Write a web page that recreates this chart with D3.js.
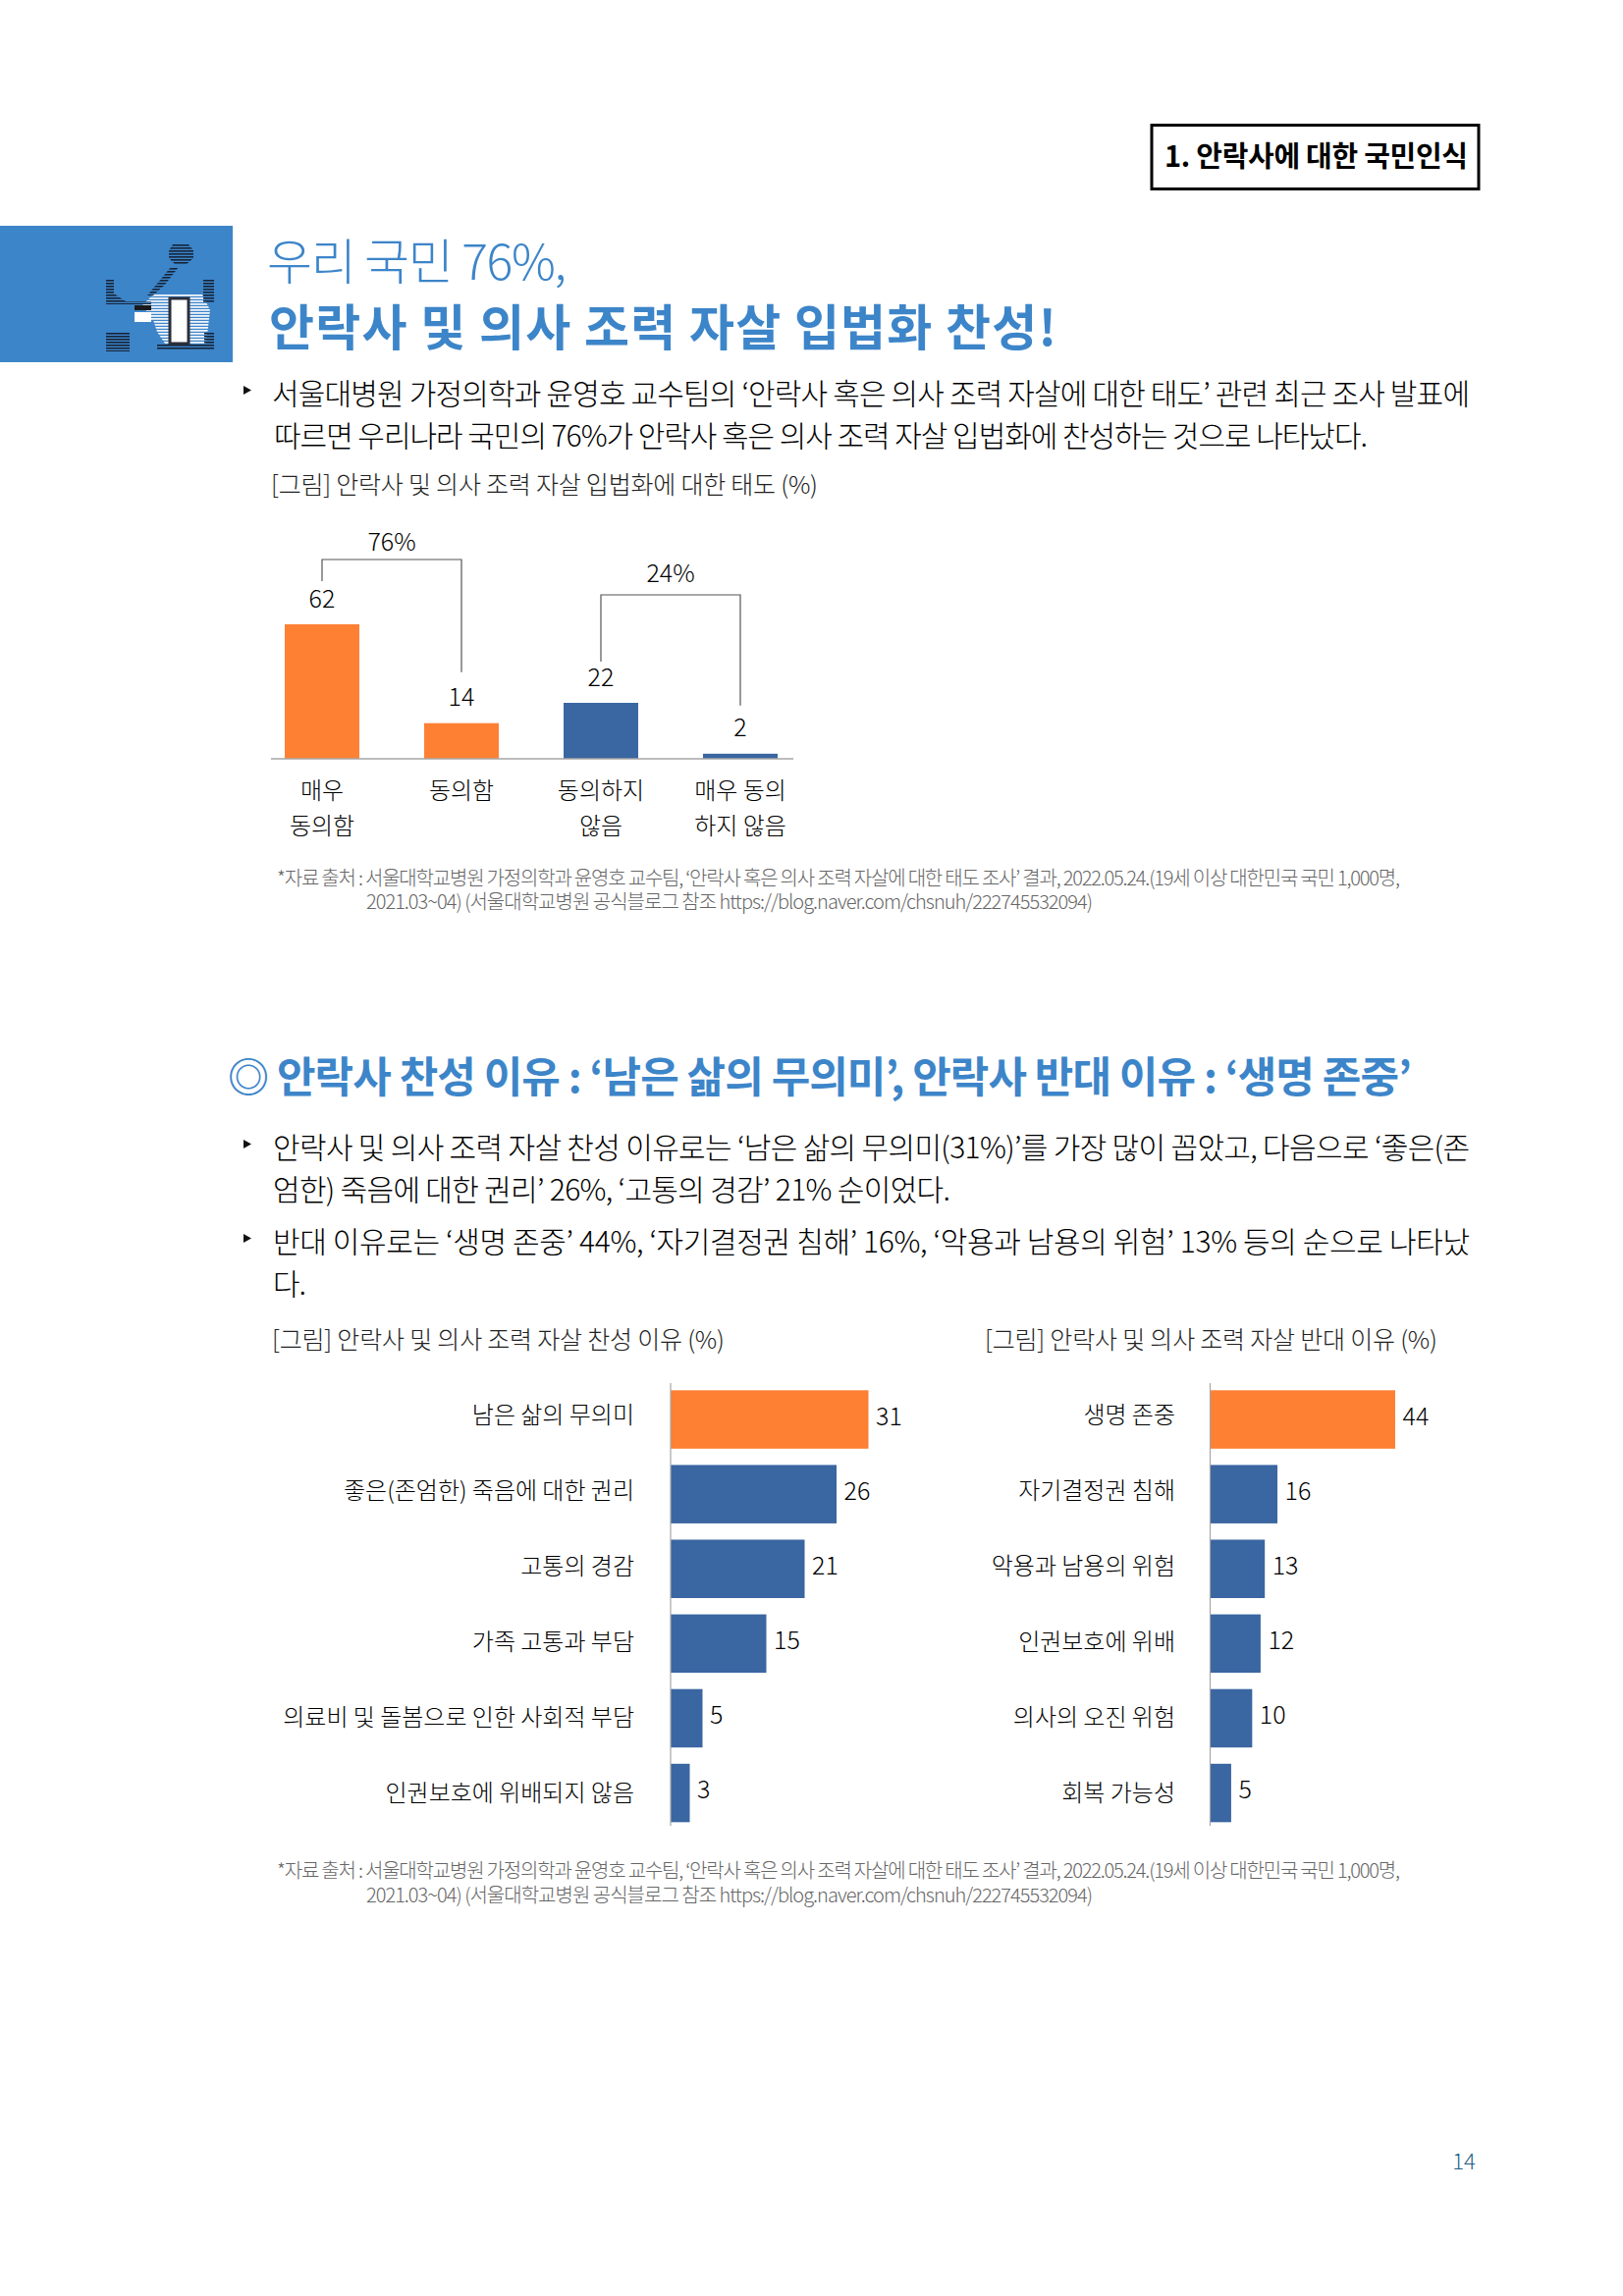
<!DOCTYPE html>
<html>
<head>
<meta charset="utf-8">
<script src="https://cdn.jsdelivr.net/npm/d3@7"></script>
<style>
  body { margin: 0; background: #fff; }
  text { font-family: "Noto Sans CJK KR", "Noto Sans", sans-serif; }
</style>
</head>
<body>
<svg id="page" width="1653" height="2339"></svg>
<script>
// Chart values
var attitude_labels = ["매우\n동의함", "동의함", "동의하지\n않음", "매우 동의\n하지 않음"]
var attitude_values = [62, 14, 22, 2]
var attitude_groups = ["76%", "24%"]

var favour_labels = ["남은 삶의 무의미", "좋은(존엄한) 죽음에 대한 권리", "고통의 경감", "가족 고통과 부담", "의료비 및 돌봄으로 인한 사회적 부담", "인권보호에 위배되지 않음"]
var favour_values = [31, 26, 21, 15, 5, 3]

var oppose_labels = ["생명 존중", "자기결정권 침해", "악용과 남용의 위험", "인권보호에 위배", "의사의 오진 위험", "회복 가능성"]
var oppose_values = [44, 16, 13, 12, 10, 5]

// Page text
var box_title = "1. 안락사에 대한 국민인식"
var head_light = "우리 국민 76%,"
var head_bold = "안락사 및 의사 조력 자살 입법화 찬성!"
var intro_lines = [
  "서울대병원 가정의학과 윤영호 교수팀의 ‘안락사 혹은 의사 조력 자살에 대한 태도’ 관련 최근 조사 발표에",
  "따르면 우리나라 국민의 76%가 안락사 혹은 의사 조력 자살 입법화에 찬성하는 것으로 나타났다."
]
var caption_attitude = "[그림] 안락사 및 의사 조력 자살 입법화에 대한 태도 (%)"
var source_lines = [
  "*자료 출처 : 서울대학교병원 가정의학과 윤영호 교수팀, ‘안락사 혹은 의사 조력 자살에 대한 태도 조사’ 결과, 2022.05.24.(19세 이상 대한민국 국민 1,000명,",
  "2021.03~04) (서울대학교병원 공식블로그 참조 https://blog.naver.com/chsnuh/222745532094)"
]
var section_mark = "◎"
var section_head = "안락사 찬성 이유 : ‘남은 삶의 무의미’, 안락사 반대 이유 : ‘생명 존중’"
var reason_lines = [
  "안락사 및 의사 조력 자살 찬성 이유로는 ‘남은 삶의 무의미(31%)’를 가장 많이 꼽았고, 다음으로 ‘좋은(존",
  "엄한) 죽음에 대한 권리’ 26%, ‘고통의 경감’ 21% 순이었다.",
  "반대 이유로는 ‘생명 존중’ 44%, ‘자기결정권 침해’ 16%, ‘악용과 남용의 위험’ 13% 등의 순으로 나타났",
  "다."
]
var caption_favour = "[그림] 안락사 및 의사 조력 자살 찬성 이유 (%)"
var caption_oppose = "[그림] 안락사 및 의사 조력 자살 반대 이유 (%)"
var page_number = "14"

var ORANGE = "#fe8033"
var BLUE = "#3a66a1"
var HEAD_BLUE = "#3d85c9"
var AXIS_GREY = "#a6a6a6"
var BODY_WEIGHT = 300

var svg = d3.select("#page")

svg.append("rect").attr("width", 1653).attr("height", 2339).attr("fill", "#fff")

// Text squeezed to the width it has in the picture
function fit_text(text, x1, x2, baseline, size, weight, fill) {
  return svg.append("text")
    .attr("x", x1)
    .attr("y", baseline)
    .attr("textLength", x2 - x1)
    .attr("lengthAdjust", "spacing")
    .style("font-size", size + "px")
    .style("font-weight", weight)
    .attr("fill", fill)
    .text(text)
}

function draw_bullet(x, y) {
  svg.append("path")
    .attr("d", "M" + x + "," + y + "l8,4.5l-8,4.5Z")
    .attr("fill", "#111")
}

function draw_header() {
  svg.append("rect")
    .attr("x", 1173).attr("y", 127.5)
    .attr("width", 333).attr("height", 65)
    .attr("fill", "#fff").attr("stroke", "#000").attr("stroke-width", 3)
  fit_text(box_title, 1186, 1495, 170, 29, 700, "#000")

  svg.append("rect")
    .attr("x", 0).attr("y", 230).attr("width", 237).attr("height", 139)
    .attr("fill", HEAD_BLUE)
  draw_icon()

  fit_text(head_light, 272, 577, 285, 50, 300, HEAD_BLUE)
  fit_text(head_bold, 274, 1076, 352, 50, 700, HEAD_BLUE)

  draw_bullet(248, 393)
  fit_text(intro_lines[0], 277, 1497, 412, 30, BODY_WEIGHT, "#000")
  fit_text(intro_lines[1], 279, 1393, 455, 30, BODY_WEIGHT, "#000")
  fit_text(caption_attitude, 276, 833, 503, 25, BODY_WEIGHT, "#222")
}

// Rough copy of the halftone icon in the blue block
function draw_icon() {
  var defs = svg.append("defs")
  defs.append("pattern")
    .attr("id", "icon_stripes")
    .attr("patternUnits", "userSpaceOnUse")
    .attr("width", 4).attr("height", 3)
    .append("rect").attr("width", 4).attr("height", 1.6).attr("fill", "#14243a")

  defs.append("pattern")
    .attr("id", "icon_white")
    .attr("patternUnits", "userSpaceOnUse")
    .attr("width", 4).attr("height", 3)
    .append("rect").attr("width", 4).attr("height", 1.8).attr("fill", "#eef3fa")

  var g = svg.append("g")

  g.append("path")
    .attr("d", "M156,300h50l8,16l-4,34h-42l-8,-12l-4,-12h-4l-4,-12h-6Z")
    .attr("fill", "url(#icon_white)")

  var dark = ["M176,249h16l5,6v8l-8,7h-10l-7,-7v-8Z",
              "M174,272h8l-14,18l-12,11h-6Z",
              "M108,285h8v14l12,8h26v3h-46Z",
              "M108,339h24v19h-24Z",
              "M160,350h58v7h-58Z",
              "M207,285h11v24h-11Z",
              "M208,338h10v12h-10Z"]
  g.selectAll(".icon_dark").data(dark).enter().append("path")
    .attr("class", "icon_dark")
    .attr("d", function(d) { return d })
    .attr("fill", "url(#icon_stripes)")

  g.append("rect").attr("x", 137).attr("y", 311).attr("width", 17).attr("height", 5).attr("fill", "#1b1b1b")
  g.append("rect").attr("x", 137).attr("y", 318).attr("width", 17).attr("height", 10).attr("fill", "#fff")
  g.append("rect").attr("x", 173).attr("y", 304).attr("width", 19).attr("height", 46)
    .attr("fill", "#fff").attr("stroke", "#2a2f3a").attr("stroke-width", 3)
}

function draw_attitude_chart() {
  var x = d3.scaleBand()
    .domain(attitude_labels)
    .range([257, 825])
    .paddingInner(0.465)
    .paddingOuter(0.2325)

  // The bars in the picture are not proportional to their labels, hence the bend at 22
  var y = d3.scaleLinear()
    .domain([0, 22, 62])
    .range([773, 716, 636])

  var bars = attitude_labels.map(function(label, i) {
    return {label: label, value: attitude_values[i], i: i}
  })

  svg.selectAll(".attitude_bar").data(bars).enter().append("rect")
    .attr("class", "attitude_bar")
    .attr("x", function(d) { return x(d.label) })
    .attr("y", function(d) { return y(d.value) })
    .attr("width", x.bandwidth())
    .attr("height", function(d) { return y(0) - y(d.value) })
    .attr("fill", function(d) { return d.i < 2 ? ORANGE : BLUE })

  svg.selectAll(".attitude_value").data(bars).enter().append("text")
    .attr("class", "attitude_value")
    .attr("x", function(d) { return x(d.label) + x.bandwidth() / 2 })
    .attr("y", function(d) { return y(d.value) - 17.5 })
    .attr("text-anchor", "middle")
    .style("font-size", "25px")
    .style("font-weight", BODY_WEIGHT)
    .attr("fill", "#000")
    .text(function(d) { return d.value })

  var axis = d3.axisBottom(x).tickSize(0).tickSizeOuter(0).tickFormat("")
  var axis_g = svg.append("g")
    .attr("transform", "translate(0," + y(0) + ")")
    .call(axis)
  axis_g.select(".domain").remove()
  axis_g.append("line")
    .attr("x1", 276).attr("x2", 808)
    .attr("stroke", AXIS_GREY).attr("stroke-width", 1.5)

  axis_g.selectAll(".tick").each(function(d) {
    var tick = d3.select(this)
    tick.select("text").remove()
    var label = tick.append("text")
      .attr("text-anchor", "middle")
      .attr("y", 41)
      .style("font-size", "24px")
      .style("font-weight", BODY_WEIGHT)
      .attr("fill", "#000")
    d.split("\n").forEach(function(line, i) {
      label.append("tspan").attr("x", 0).attr("dy", i ? 36 : 0).text(line)
    })
  })

  // Brackets over the two groups of bars
  var centre = function(i) { return x(attitude_labels[i]) + x.bandwidth() / 2 }
  var brackets = [
    {from: 0, to: 1, top: y(62) - 66, left_end: y(62) - 44, right_end: y(14) - 52, label: attitude_groups[0], base: y(62) - 75},
    {from: 2, to: 3, top: y(22) - 110, left_end: y(22) - 42, right_end: y(2) - 49, label: attitude_groups[1], base: y(22) - 123}
  ]
  svg.selectAll(".bracket").data(brackets).enter().append("path")
    .attr("class", "bracket")
    .attr("d", function(d) {
      return "M" + centre(d.from) + "," + d.left_end + "V" + d.top + "H" + centre(d.to) + "V" + d.right_end
    })
    .attr("fill", "none").attr("stroke", "#555").attr("stroke-width", 1.2)

  svg.selectAll(".bracket_label").data(brackets).enter().append("text")
    .attr("class", "bracket_label")
    .attr("x", function(d) { return (centre(d.from) + centre(d.to)) / 2 })
    .attr("y", function(d) { return d.base })
    .attr("text-anchor", "middle")
    .style("font-size", "25px")
    .style("font-weight", BODY_WEIGHT)
    .attr("fill", "#000")
    .text(function(d) { return d.label })
}

function draw_reason_chart(labels, values, x0, x_max, label_right) {
  var x = d3.scaleLinear()
    .domain([0, d3.max(values)])
    .range([x0, x_max])

  var y = d3.scaleBand()
    .domain(labels)
    .range([1408, 1864.6])
    .paddingInner(0.218)
    .paddingOuter(0.109)

  // Labels step a little wider than the bars in the picture
  var label_y = d3.scalePoint()
    .domain(labels)
    .range([1449, 1834])

  var bars = labels.map(function(label, i) {
    return {label: label, value: values[i], i: i}
  })

  svg.selectAll(null).data(bars).enter().append("rect")
    .attr("x", x(0))
    .attr("y", function(d) { return y(d.label) })
    .attr("width", function(d) { return x(d.value) - x(0) })
    .attr("height", y.bandwidth())
    .attr("fill", function(d) { return d.i === 0 ? ORANGE : BLUE })

  svg.append("line")
    .attr("x1", x(0)).attr("x2", x(0))
    .attr("y1", 1409).attr("y2", 1860)
    .attr("stroke", AXIS_GREY).attr("stroke-width", 1.2)

  svg.selectAll(null).data(bars).enter().append("text")
    .attr("x", function(d) { return x(d.value) + 7.5 })
    .attr("y", function(d) { return y(d.label) + y.bandwidth() / 2 + 5.5 })
    .style("font-size", "25px")
    .style("font-weight", BODY_WEIGHT)
    .attr("fill", "#000")
    .text(function(d) { return d.value })

  var axis = d3.axisLeft(label_y).tickSize(0).tickPadding(0)
  var axis_g = svg.append("g")
    .attr("transform", "translate(" + label_right + ",0)")
    .call(axis)
  axis_g.select(".domain").remove()
  axis_g.selectAll("text")
    .attr("x", 0)
    .attr("dy", 0)
    .style("font-size", "24px")
    .style("font-weight", BODY_WEIGHT)
    .style("font-family", '"Noto Sans CJK KR"')
    .attr("fill", "#000")
}

function draw_source(y1, y2) {
  fit_text(source_lines[0], 282, 1426, y1, 20, BODY_WEIGHT, "#666")
  fit_text(source_lines[1], 373, 1113, y2, 20, BODY_WEIGHT, "#666")
}

function draw_section() {
  fit_text(section_mark, 232, 270, 1113, 42, 700, HEAD_BLUE)
  fit_text(section_head, 282, 1438, 1113, 43, 700, HEAD_BLUE)

  draw_bullet(248, 1161)
  fit_text(reason_lines[0], 278, 1497, 1180, 30, BODY_WEIGHT, "#000")
  fit_text(reason_lines[1], 278, 968, 1223, 30, BODY_WEIGHT, "#000")
  draw_bullet(248, 1257)
  fit_text(reason_lines[2], 278, 1497, 1276, 30, BODY_WEIGHT, "#000")
  fit_text(reason_lines[3], 278, 312, 1319, 30, BODY_WEIGHT, "#000")

  fit_text(caption_favour, 277, 738, 1374, 25, BODY_WEIGHT, "#222")
  fit_text(caption_oppose, 1003, 1464, 1374, 25, BODY_WEIGHT, "#222")
}

draw_header()
draw_attitude_chart()
draw_source(901.5, 926)
draw_section()
draw_reason_chart(favour_labels, favour_values, 683, 884.5, 646)
draw_reason_chart(oppose_labels, oppose_values, 1232.5, 1421, 1197)
draw_source(1912.5, 1937.5)

svg.append("text")
  .attr("x", 1491).attr("y", 2210)
  .attr("text-anchor", "middle")
  .style("font-size", "22px")
  .style("font-weight", BODY_WEIGHT)
  .attr("fill", "#1f5f85")
  .text(page_number)
</script>
</body>
</html>
